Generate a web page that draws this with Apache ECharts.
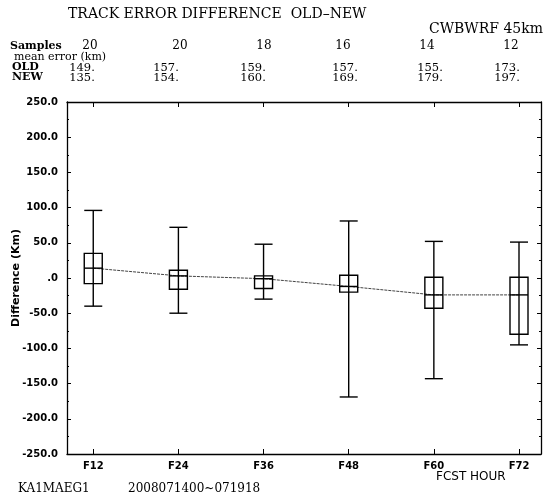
<!DOCTYPE html>
<html><head><meta charset="utf-8">
<script src="https://cdn.jsdelivr.net/npm/echarts@6/dist/echarts.min.js"></script>
<style>html,body{margin:0;padding:0;background:#fff}#c{width:545px;height:504px}</style>
</head><body><div id="c"></div>
<script>
// ---- data ----
const hours = [12, 24, 36, 48, 60, 72];
const hourLabels = ['F12', 'F24', 'F36', 'F48', 'F60', 'F72'];
const samples = ['20', '20', '18', '16', '14', '12'];
const oldErr = ['149.', '157.', '159.', '157.', '155.', '173.'];
const newErr = ['135.', '154.', '160.', '169.', '179.', '197.'];
const meanDiff = [14, 3, -1, -12, -24, -24];
const whiskerHigh = [96, 72, 48, 81, 52, 51];
const boxHigh = [35, 11, 3, 4, 1, 1];
const boxLow = [-8, -16, -15, -20, -43, -80];
const whiskerLow = [-40, -50, -30, -169, -143, -95];

const serif = '"DejaVu Serif", "Liberation Serif", serif';
const sans = '"DejaVu Sans", "Liberation Sans", sans-serif';

const boxData = hours.map((h, i) => [h, whiskerLow[i], boxLow[i], meanDiff[i], boxHigh[i], whiskerHigh[i]]);
const meanData = hours.map((h, i) => [h, meanDiff[i]]);

const chart = echarts.init(document.getElementById('c'), null, {renderer: 'canvas'});

const colSamples = [90, 180, 264, 343, 427, 511];
const colErr = [82, 166, 253, 345, 430, 507];
const graphics = [
  {type: 'text', left: 68, top: 7, style: {text: 'TRACK ERROR DIFFERENCE  OLD\u2013NEW', font: '14px ' + serif, fill: '#000'}},
  {type: 'text', right: 2, top: 22, style: {text: 'CWBWRF 45km', font: '14px ' + serif, fill: '#000'}},
  {type: 'text', left: 10, top: 41, style: {text: 'Samples', font: 'bold 11px ' + serif, fill: '#000'}},
  {type: 'text', left: 14, top: 52, style: {text: 'mean error (km)', font: '11px ' + serif, fill: '#000'}},
  {type: 'text', left: 12, top: 62, style: {text: 'OLD', font: 'bold 11px ' + serif, fill: '#000'}},
  {type: 'text', left: 12, top: 72, style: {text: 'NEW', font: 'bold 11px ' + serif, fill: '#000'}},
  {type: 'text', left: 18, top: 483, style: {text: 'KA1MAEG1', font: '12px ' + serif, fill: '#000'}},
  {type: 'text', left: 128, top: 483, style: {text: '2008071400~071918', font: '12px ' + serif, fill: '#000'}},
  {type: 'text', left: 436, top: 471, style: {text: 'FCST HOUR', font: '12px ' + sans, fill: '#000'}}
];
samples.forEach((s, i) => graphics.push({type: 'text', x: colSamples[i], y: 40, style: {text: s, font: '12px ' + serif, fill: '#000', textAlign: 'center'}}));
oldErr.forEach((s, i) => graphics.push({type: 'text', x: colErr[i], y: 62, style: {text: s, font: '11.5px ' + serif, fill: '#000', textAlign: 'center'}}));
newErr.forEach((s, i) => graphics.push({type: 'text', x: colErr[i], y: 72, style: {text: s, font: '11.5px ' + serif, fill: '#000', textAlign: 'center'}}));

const axisLine = {show: true, onZero: false, lineStyle: {color: '#000', width: 1.3}};
const option = {
  backgroundColor: '#fff',
  animation: false,
  grid: {left: 67, right: 4, top: 102, bottom: 50, containLabel: false, outerBoundsMode: 'none'},
  xAxis: [
    {type: 'value', min: 8.3, max: 75.1, position: 'bottom',
     axisLine: axisLine, splitLine: {show: false},
     axisTick: {show: true, inside: true, length: 5, customValues: hours, lineStyle: {color: '#000'}},
     axisLabel: {show: true, customValues: hours, formatter: v => 'F' + v, margin: 7,
                 color: '#000', fontFamily: sans, fontWeight: 'bold', fontSize: 10}},
    {type: 'value', min: 8.3, max: 75.1, position: 'top',
     axisLine: axisLine, splitLine: {show: false},
     axisTick: {show: true, inside: true, length: 5, customValues: hours, lineStyle: {color: '#000'}},
     axisLabel: {show: false}}
  ],
  yAxis: [
    {type: 'value', min: -250, max: 250, interval: 50, position: 'left',
     name: 'Difference (Km)', nameLocation: 'middle', nameGap: 45, nameRotate: 90, nameMoveOverlap: false,
     nameTextStyle: {color: '#000', fontFamily: sans, fontWeight: 'bold', fontSize: 11},
     axisLine: axisLine, splitLine: {show: false},
     axisTick: {show: true, inside: true, length: 4, lineStyle: {color: '#000'}},
     minorTick: {show: true, splitNumber: 2, length: 2, lineStyle: {color: '#000'}},
     axisLabel: {margin: 9, color: '#000', fontFamily: sans, fontWeight: 'bold', fontSize: 10,
                 formatter: v => v === 0 ? '.0' : v.toFixed(1)}},
    {type: 'value', min: -250, max: 250, interval: 50, position: 'right',
     axisLine: axisLine, splitLine: {show: false},
     axisTick: {show: true, inside: true, length: 4, lineStyle: {color: '#000'}},
     minorTick: {show: true, splitNumber: 2, length: 2, lineStyle: {color: '#000'}},
     axisLabel: {show: false}}
  ],
  series: [
    {type: 'line', data: meanData, symbol: 'none', z: 2,
     lineStyle: {color: '#444', width: 1, type: [3, 1]}},
    {type: 'custom', z: 3, data: boxData,
     renderItem: function (params, api) {
       const x = api.value(0);
       const pLow = api.coord([x, api.value(1)]);
       const pQ1 = api.coord([x, api.value(2)]);
       const pMid = api.coord([x, api.value(3)]);
       const pQ3 = api.coord([x, api.value(4)]);
       const pHigh = api.coord([x, api.value(5)]);
       const hw = 9;
       const st = {stroke: '#000', lineWidth: 1.4, fill: null};
       return {type: 'group', children: [
         {type: 'line', shape: {x1: pLow[0], y1: pLow[1], x2: pHigh[0], y2: pHigh[1]}, style: st},
         {type: 'line', shape: {x1: pLow[0] - hw, y1: pLow[1], x2: pLow[0] + hw, y2: pLow[1]}, style: st},
         {type: 'line', shape: {x1: pHigh[0] - hw, y1: pHigh[1], x2: pHigh[0] + hw, y2: pHigh[1]}, style: st},
         {type: 'rect', shape: {x: pQ3[0] - hw, y: pQ3[1], width: 2 * hw, height: pQ1[1] - pQ3[1]}, style: {stroke: '#000', lineWidth: 1.4, fill: 'none'}},
         {type: 'line', shape: {x1: pMid[0] - hw, y1: pMid[1], x2: pMid[0] + hw, y2: pMid[1]}, style: st}
       ]};
     }}
  ],
  graphic: graphics
};
chart.setOption(option);
</script>
</body></html>
